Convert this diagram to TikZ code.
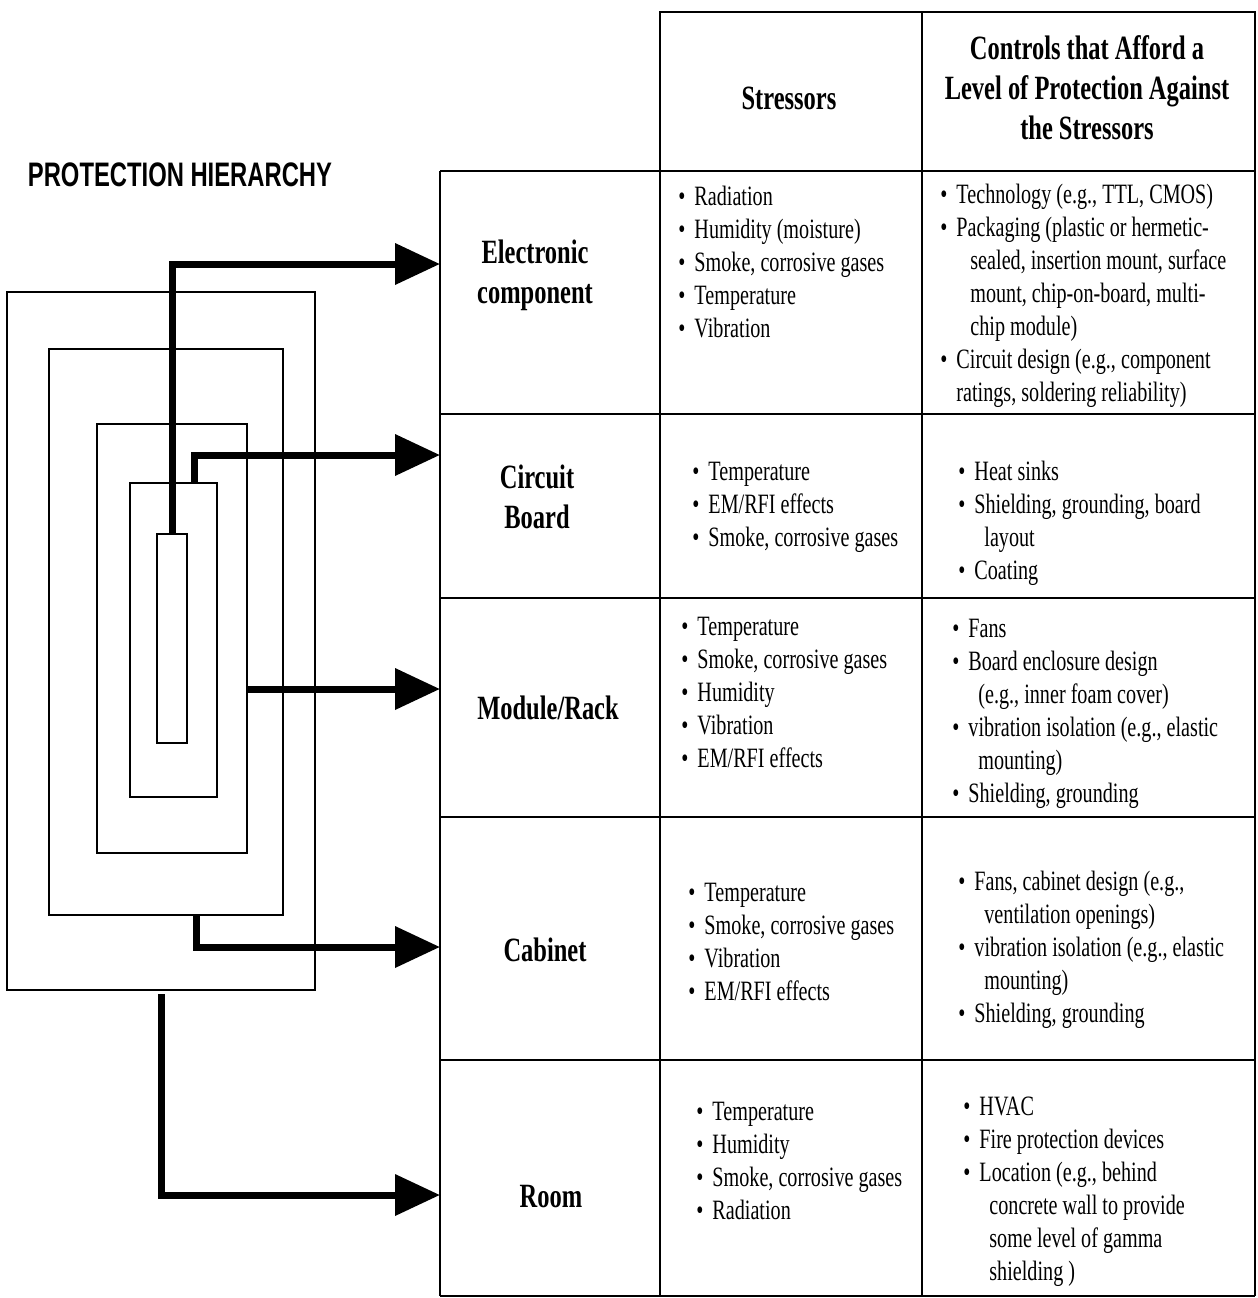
\documentclass[tikz,border=0pt]{standalone}
\usepackage{fontspec}
\setmainfont[FakeStretch=0.72]{Liberation Serif}
\newfontfamily\titlefont[FakeStretch=0.7]{Liberation Sans}
\usetikzlibrary{arrows.meta, fit}
\newcommand{\bul}{\textbullet\hspace{4.5pt}}
\newcommand{\ind}{\hspace*{13pt}}

\begin{document}
\begin{tikzpicture}[x=0.5pt, y=-0.5pt,
    layer/.style={draw, line width=1pt, inner sep=0pt},
    rule/.style={line width=1.2pt},
    feed/.style={-{Triangle[length=22.5pt, width=20pt]}, line width=3.5pt, line join=miter},
    lst/.style={anchor=north west, inner sep=0pt, align=left,
                font=\fontsize{14}{16.5}\selectfont, execute at begin node=\strut},
    hd/.style={align=center, inner sep=0pt, font=\bfseries\fontsize{17}{20}\selectfont},
  ]
  \useasboundingbox (0,0) rectangle (1258,1298);

  % table grid
  \draw[rule] (660,171) -- (660,12) -- (1255,12) -- (1255,1296);
  \draw[rule] (922,12) -- (922,1296);
  \draw[rule] (440,171) -- (440,1296);
  \draw[rule] (660,171) -- (660,1296);
  \foreach \y in {171,414,598,817,1060,1296}
    \draw[rule] (440,\y) -- (1255,\y);

  % headings
  \node[hd] (hstress) at (789,98) {Stressors};
  \node[hd] (hctrl) at (1087,88) {Controls that Afford a\\Level of Protection Against\\the Stressors};
  \node[inner sep=0pt, font=\titlefont\bfseries\fontsize{17}{20}\selectfont] (title) at (180,175) {PROTECTION HIERARCHY};

  % levels
  \node[hd] (elec) at (535,275) {Electronic\\component};
  \node[hd] (board) at (537,497) {Circuit\\Board};
  \node[hd] (mod) at (548,708) {Module/Rack};
  \node[hd] (cabt) at (545,950) {Cabinet};
  \node[hd] (roomt) at (551,1197) {Room};

  % stressors
  \node[lst] (s-elec) at (678,186) {\bul Radiation\\\bul Humidity (moisture)\\\bul Smoke, corrosive gases\\\bul Temperature\\\bul Vibration};
  \node[lst] (s-board) at (692,462) {\bul Temperature\\\bul EM/RFI effects\\\bul Smoke, corrosive gases};
  \node[lst] (s-mod) at (681,617) {\bul Temperature\\\bul Smoke, corrosive gases\\\bul Humidity\\\bul Vibration\\\bul EM/RFI effects};
  \node[lst] (s-cab) at (688,883) {\bul Temperature\\\bul Smoke, corrosive gases\\\bul Vibration\\\bul EM/RFI effects};
  \node[lst] (s-room) at (696,1102) {\bul Temperature\\\bul Humidity\\\bul Smoke, corrosive gases\\\bul Radiation};

  % controls
  \node[lst] (c-elec) at (940,184) {\bul Technology (e.g., TTL, CMOS)\\\bul Packaging (plastic or hermetic-\\\hspace*{15pt}sealed, insertion mount, surface\\\hspace*{15pt}mount, chip-on-board, multi-\\\hspace*{15pt}chip module)\\\bul Circuit design (e.g., component\\\hspace*{8pt}ratings, soldering reliability)};
  \node[lst] (c-board) at (958,461) {\bul Heat sinks\\\bul Shielding, grounding, board\\\ind layout\\\bul Coating};
  \node[lst] (c-mod) at (952,619) {\bul Fans\\\bul Board enclosure design\\\ind (e.g., inner foam cover)\\\bul vibration isolation (e.g., elastic\\\ind mounting)\\\bul Shielding, grounding};
  \node[lst] (c-cab) at (958,871) {\bul Fans, cabinet design (e.g.,\\\ind ventilation openings)\\\bul vibration isolation (e.g., elastic\\\ind mounting)\\\bul Shielding, grounding};
  \node[lst] (c-room) at (963,1097) {\bul HVAC\\\bul Fire protection devices\\\bul Location (e.g., behind\\\ind concrete wall to provide\\\ind some level of gamma\\\ind shielding )};

  % nested enclosures
  \node[layer, fit={(7,292) (315,990)}] (room) {};
  \node[layer, fit={(49,349) (283,915)}] (cab) {};
  \node[layer, fit={(97,424) (247,853)}] (rack) {};
  \node[layer, fit={(130,483) (217,797)}] (pcb) {};
  \node[layer, fit={(157,534) (187,743)}] (chip) {};

  \coordinate (in-chip) at (440,264);
  \coordinate (in-pcb) at (440,455);
  \coordinate (in-rack) at (440,689);
  \coordinate (in-cab) at (440,947);
  \coordinate (in-room) at (440,1195);

  % arrows to the table
  \draw[feed] (chip.north) |- (in-chip);
  \draw[feed] ([xshift=10.5pt]pcb.north) |- (in-pcb);
  \draw[feed] (rack.east |- in-rack) -- (in-rack);
  \draw[feed] ([xshift=15pt]cab.south) |- (in-cab);
  \draw[feed] ([yshift=-1.5pt]room.south) |- (in-room);
\end{tikzpicture}
\end{document}
